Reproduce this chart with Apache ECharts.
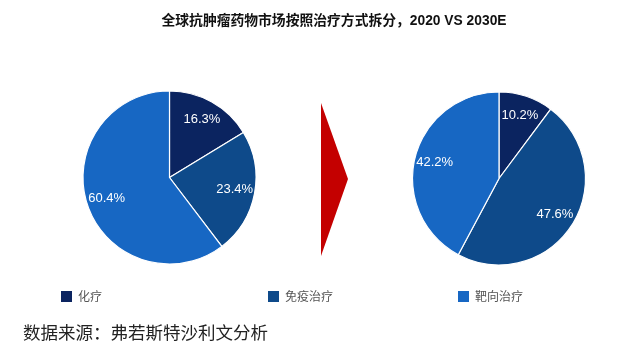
<!DOCTYPE html>
<html><head><meta charset="utf-8">
<script src="https://cdn.jsdelivr.net/npm/echarts@6/dist/echarts.min.js"></script>
<style>html,body{margin:0;padding:0;background:#fff}#c{width:641px;height:353px}</style>
</head><body><div id="c"></div>
<script>
const categories = ['化疗', '免疫治疗', '靶向治疗'];
const values2020 = [16.3, 23.4, 60.4];
const values2030 = [10.2, 47.6, 42.2];
const colors = ['#0b2460', '#0e4a8a', '#1767c3'];
const titleText = '全球抗肿瘤药物市场按照治疗方式拆分，2020 VS 2030E';
const sourceText = '数据来源：弗若斯特沙利文分析';

const chart = echarts.init(document.getElementById('c'));
function mk(vals) { return vals.map((v, i) => ({ name: categories[i], value: v })); }
function pie(center, vals) {
  return [{
    type: 'pie', center: center, radius: [0, 86.5], startAngle: 90, clockwise: true,
    data: mk(vals), label: { show: false }, labelLine: { show: false },
    itemStyle: { borderColor: '#ffffff', borderWidth: 1.2 }, emphasis: { disabled: true }, silent: true
  }, {
    type: 'pie', center: center, radius: [40, 86.5], startAngle: 90, clockwise: true,
    data: mk(vals), legendHoverLink: false,
    itemStyle: { color: 'rgba(0,0,0,0)' }, emphasis: { disabled: true }, silent: true,
    label: { show: true, position: 'inside', color: '#ffffff', fontSize: 13, fontFamily: 'Liberation Sans, Arial, sans-serif', formatter: p => p.value.toFixed(1) + '%' },
    labelLine: { show: false }
  }];
}
const legendPos = [54, 261, 451];
chart.setOption({
  animation: false,
  color: colors,
  title: { text: titleText, left: 329, textAlign: 'center', top: 9,
    textStyle: { fontSize: 13.8, fontWeight: 'bold', color: '#111', fontFamily: 'Liberation Sans, "Noto Sans CJK SC", sans-serif' } },
  legend: categories.map((c, i) => ({
    data: [c], left: legendPos[i], top: 284, icon: 'rect', itemWidth: 13, itemHeight: 13, itemGap: 8,
    textStyle: { color: '#555', fontSize: 12, fontFamily: '"Noto Sans CJK SC", sans-serif' }, selectedMode: false
  })),
  graphic: [
    { type: 'polygon', shape: { points: [[321, 103], [348, 179], [321, 256]] }, style: { fill: '#c40000' } },
    { type: 'text', left: 23, top: 324, style: { text: sourceText, fontSize: 17.5, fill: '#222', fontFamily: '"Noto Sans CJK SC", serif' } }
  ],
  series: [...pie([169.5, 177.5], values2020), ...pie([499, 178.5], values2030)]
});
</script></body></html>
